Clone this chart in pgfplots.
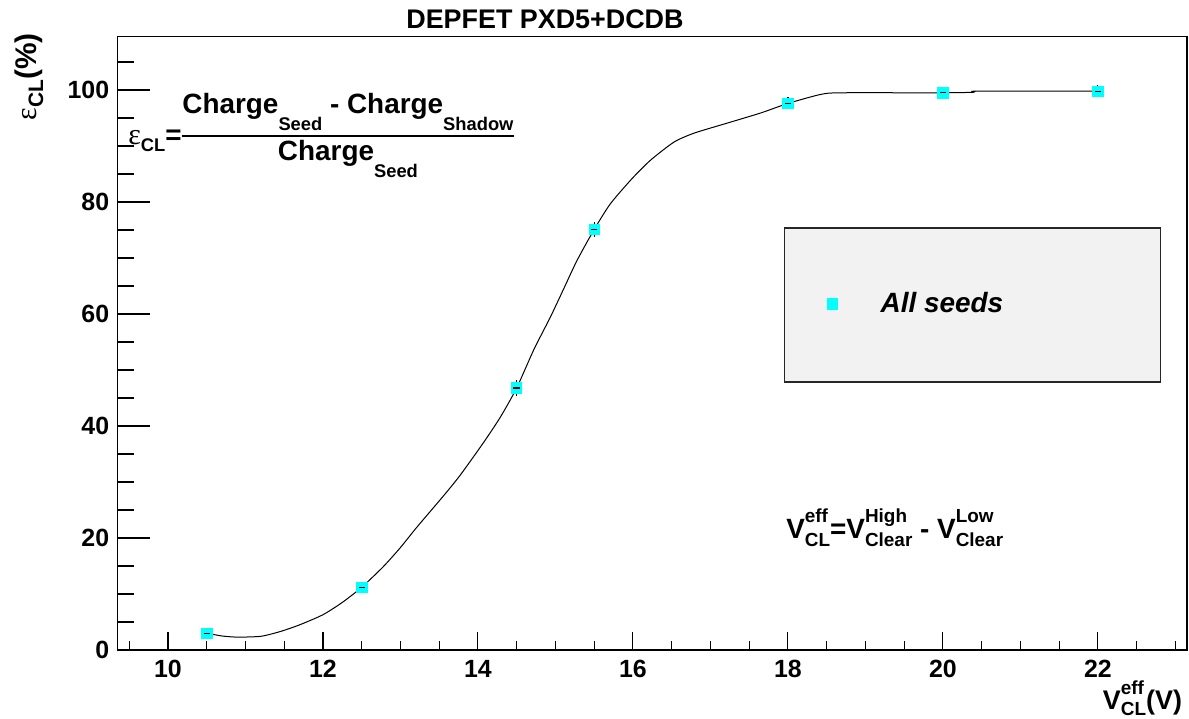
\documentclass[border=0pt]{standalone}
\usepackage{pgfplots}
\pgfplotsset{compat=1.18}
\usepackage{fontspec}
\setmainfont{Liberation Sans}
\newfontfamily\greekfont{Liberation Serif}
\definecolor{rootcyan}{RGB}{0,255,255}
\definecolor{legfill}{RGB}{242,242,242}
% fraction subscripts (strongly lowered, ROOT style)
\newcommand{\fsub}[1]{\raisebox{-8.5bp}{\fontsize{9.2}{9.2}\selectfont\bfseries #1}}
% sup/sub stack for the V formula
\newcommand{\vsupsub}[2]{\rlap{\raisebox{8bp}{\fontsize{9.5}{9.5}\selectfont\bfseries #1}}\raisebox{-4bp}{\fontsize{9.5}{9.5}\selectfont\bfseries #2}}
\begin{document}
\begin{tikzpicture}
\useasboundingbox (-58.8bp,-34.5bp) rectangle (535.7bp,325bp);
\begin{axis}[
  at={(0,0)}, anchor=south west,
  scale only axis, width=534.7bp, height=306.6bp,
  xmin=9.35, xmax=23.15, ymin=0, ymax=109.5,
  clip=false,
  axis line style={black, line width=0.7bp},
  xtick={10,12,...,22}, ytick={0,20,...,100},
  minor xtick={9.5,10,...,23}, minor ytick={0,5,...,105},
  xtick pos=bottom, ytick pos=left, tick align=inside,
  xtick style={black, line width=0.55bp, /pgfplots/major tick length=9bp, /pgfplots/minor tick length=4.5bp},
  ytick style={black, line width=0.55bp, /pgfplots/major tick length=16bp, /pgfplots/minor tick length=8bp},
  /pgf/number format/assume math mode=true,
  tick label style={font=\fontsize{12.5}{12.5}\selectfont\bfseries, inner sep=0pt},
  xticklabel style={yshift=-5bp},
  yticklabel style={xshift=-4bp},
  legend style={at={(axis cs:18.503,61.8)}, anchor=west, draw=none, fill=none,
    inner sep=0pt, column sep=21.5bp, nodes={inner sep=0pt},
    font=\fontsize{14}{14}\selectfont\bfseries\itshape},
  legend image code/.code={\draw[draw=none, mark=square*, mark size=2.6bp, mark options={fill=rootcyan, draw=rootcyan}] plot coordinates {(0bp,0bp)};},
]
% legend box
\draw[fill=legfill, draw=black!85, line width=0.6bp] (axis cs:17.961,75.36) rectangle (axis cs:22.813,47.86);

% fitted curve
\addplot[black, line width=0.5bp, smooth, tension=0.4, forget plot] coordinates {
(10.5,3.0) (10.7,2.5) (10.9,2.3) (11.2,2.45) (11.45,3.3) (11.7,4.5) (12.0,6.3)
(12.25,8.5) (12.5,11.2) (12.78,14.9) (13.0,18.3) (13.21,21.9) (13.56,27.6)
(13.77,31.2) (14.07,37.0) (14.29,41.6) (14.5,46.8) (14.72,53.6) (14.94,59.6)
(15.11,64.6) (15.28,69.6) (15.5,75.1) (15.71,79.7) (15.99,84.2) (16.23,87.5)
(16.53,90.7) (16.79,92.3) (17.22,94.1) (17.65,95.9) (18.0,97.6) (18.42,99.2)
(18.68,99.5) (20.0,99.5) (20.4,99.6) (20.45,99.8) (22.0,99.8)
};

% data points
\addplot[only marks, mark=square*, mark size=2.6bp, mark options={fill=rootcyan, draw=rootcyan}]
  coordinates {(10.5,3.0) (12.5,11.2) (14.5,46.8) (15.5,75.1) (18,97.6) (20,99.5) (22,99.8)};
\addlegendentry{All seeds}

% error bars (black, drawn over the markers)
\addplot[only marks, mark=-, mark size=1.6bp, mark options={black, line width=0.6bp}, forget plot,
  error bars/.cd, y dir=both, y explicit, error mark=-,
  error bar style={black, solid, line width=0.6bp},
  error mark options={black, line width=0.6bp, mark size=1.6bp}]
  coordinates {
  (10.5,3.0) +- (0,0.15)
  (12.5,11.2) +- (0,0.2)
  (14.5,46.8) +- (0,0.8)
  (15.5,75.1) +- (0,0.7)
  (18,97.6) +- (0,0.5)
  (20,99.5) +- (0,0.5)
  (22,99.8) +- (0,0.5)
  };

% title
\node[font=\fontsize{13.5}{13.5}\selectfont\bfseries, anchor=center] at (axis cs:14.865,112.7) {DEPFET PXD5+DCDB};

% y label
\node[rotate=90, anchor=east, inner sep=0pt, font=\fontsize{15}{15}\selectfont\bfseries] at (axis cs:8.207,110.2)
  {{\greekfont\mdseries ε}\raisebox{-3.5bp}{\fontsize{10.5}{10.5}\selectfont CL}(\%)};

% x label
\node[anchor=base east, inner sep=0pt, font=\fontsize{13.5}{13.5}\selectfont\bfseries] at (axis cs:23.09,-10.7)
  {V\rlap{\raisebox{7.5bp}{\fontsize{9.5}{9.5}\selectfont eff}}\raisebox{-3bp}{\fontsize{9.5}{9.5}\selectfont CL}(V)};

% efficiency formula
\coordinate (barL) at (axis cs:10.181,91.79);
\node[anchor=south west, inner sep=0pt, font=\fontsize{14}{14}\selectfont\bfseries] (num) at ([yshift=2.5bp]barL)
  {Charge\fsub{Seed} - Charge\fsub{Shadow}};
\draw[black, line width=0.8bp] (barL) -- (barL -| num.east);
\node[anchor=north, inner sep=0pt, font=\fontsize{14}{14}\selectfont\bfseries] at ([yshift=-2bp]barL -| num.center)
  {Charge\fsub{Seed}};
\node[anchor=base east, inner sep=0pt, font=\fontsize{14}{14}\selectfont\bfseries] at ([yshift=-4.5bp]barL)
  {{\greekfont\mdseries\fontsize{15}{15}\selectfont ε}\raisebox{-3.5bp}{\fontsize{9.2}{9.2}\selectfont CL}=};

% V formula
\node[anchor=base west, inner sep=0pt, font=\fontsize{14}{14}\selectfont\bfseries] at (axis cs:17.974,20.0)
  {V\vsupsub{eff}{CL}=V\vsupsub{High}{Clear} - V\vsupsub{Low}{Clear}};
\end{axis}
\end{tikzpicture}
\end{document}
